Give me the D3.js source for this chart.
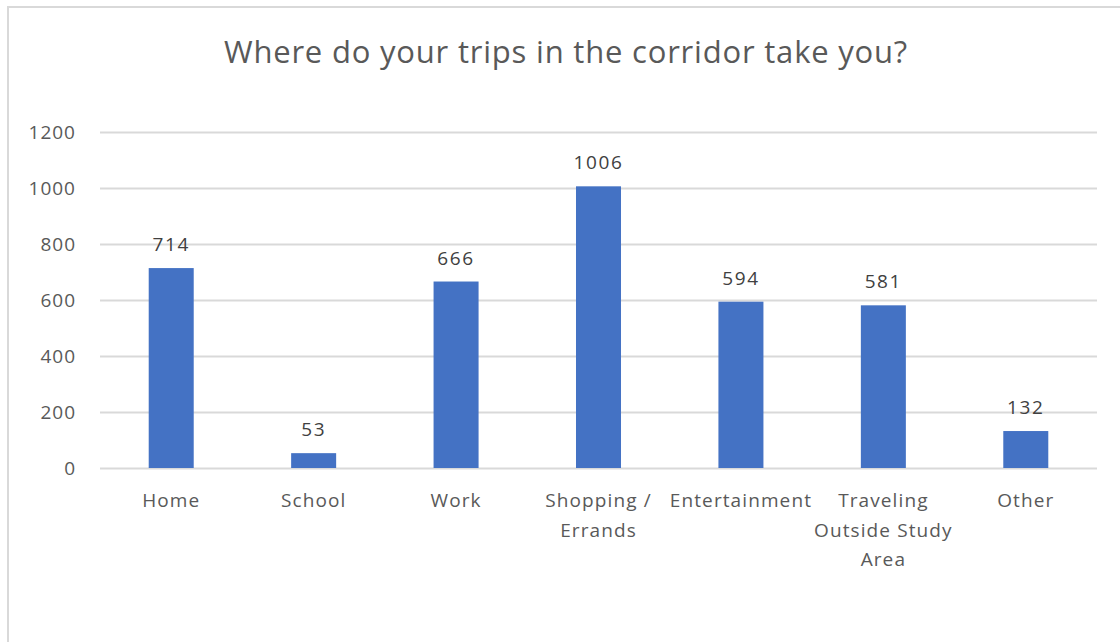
<!DOCTYPE html>
<html>
<head>
<meta charset="utf-8">
<script src="https://cdn.jsdelivr.net/npm/d3@7"></script>
<style>
  html, body { margin: 0; padding: 0; background: #fff; }
  svg { display: block; font-family: "Open Sans", "Noto Sans", sans-serif; }
</style>
</head>
<body>
<svg id="chart" width="1120" height="642"></svg>
<script>
// Trip destinations reported in the corridor survey
const categories = ["Home", "School", "Work", "Shopping / Errands", "Entertainment", "Traveling Outside Study Area", "Other"];
const categoryLines = [["Home"], ["School"], ["Work"], ["Shopping /", "Errands"], ["Entertainment"], ["Traveling", "Outside Study", "Area"], ["Other"]];
const tripCounts = [714, 53, 666, 1006, 594, 581, 132];
const yTicks = [0, 200, 400, 600, 800, 1000, 1200];
const title = "Where do your trips in the corridor take you?";

const svg = d3.select("#chart");
const W = 1120, H = 642;
const margin = { left: 100, right: 23, top: 132, bottom: 174 };

// Outer chart frame
svg.append("rect")
  .attr("x", 8).attr("y", 7)
  .attr("width", 1116).attr("height", 660)
  .attr("fill", "#fff")
  .attr("stroke", "#d9d9d9").attr("stroke-width", 2);

svg.append("text")
  .attr("x", 566).attr("y", 63)
  .attr("text-anchor", "middle")
  .attr("fill", "#595959")
  .attr("font-size", 31)
  .attr("letter-spacing", 0.8)
  .text(title);

const x = d3.scaleBand()
  .domain(categories)
  .range([margin.left, W - margin.right])
  .paddingInner(0.684)
  .paddingOuter(0.342);

const y = d3.scaleLinear()
  .domain([0, 1200])
  .range([H - margin.bottom, margin.top]);

// Horizontal gridlines with value labels
const yAxis = d3.axisLeft(y)
  .tickValues(yTicks)
  .tickSize(-(W - margin.right - margin.left))
  .tickPadding(24)
  .tickFormat(d3.format("d"));

const gy = svg.append("g")
  .attr("transform", `translate(${margin.left},0)`)
  .call(yAxis);
gy.select(".domain").remove();
gy.selectAll(".tick line").attr("stroke", "#d9d9d9").attr("stroke-width", 2);
gy.selectAll(".tick text")
  .attr("fill", "#595959")
  .attr("font-size", 19)
  .attr("font-family", "Open Sans, sans-serif")
  .attr("letter-spacing", 1);

// Bars
svg.append("g").selectAll("rect")
  .data(tripCounts)
  .join("rect")
  .attr("x", (d, i) => x(categories[i]))
  .attr("y", d => y(d))
  .attr("width", x.bandwidth())
  .attr("height", d => y(0) - y(d))
  .attr("fill", "#4472c4");

// Value labels above bars
svg.append("g").selectAll("text")
  .data(tripCounts)
  .join("text")
  .attr("x", (d, i) => x(categories[i]) + x.bandwidth() / 2)
  .attr("y", d => y(d) - 17)
  .attr("text-anchor", "middle")
  .attr("fill", "#404040")
  .attr("font-size", 19)
  .attr("letter-spacing", 1.6)
  .text(d => d);

// Category labels, wrapped onto several lines
const cat = svg.append("g").selectAll("text")
  .data(categoryLines)
  .join("text")
  .attr("x", (d, i) => x(categories[i]) + x.bandwidth() / 2)
  .attr("y", 507)
  .attr("text-anchor", "middle")
  .attr("fill", "#595959")
  .attr("font-size", 19)
  .attr("letter-spacing", 1.1);
cat.selectAll("tspan")
  .data(d => d)
  .join("tspan")
  .attr("x", function () { return d3.select(this.parentNode).attr("x"); })
  .attr("dy", (d, i) => i === 0 ? 0 : 29.5)
  .text(d => d);
</script>
</body>
</html>
